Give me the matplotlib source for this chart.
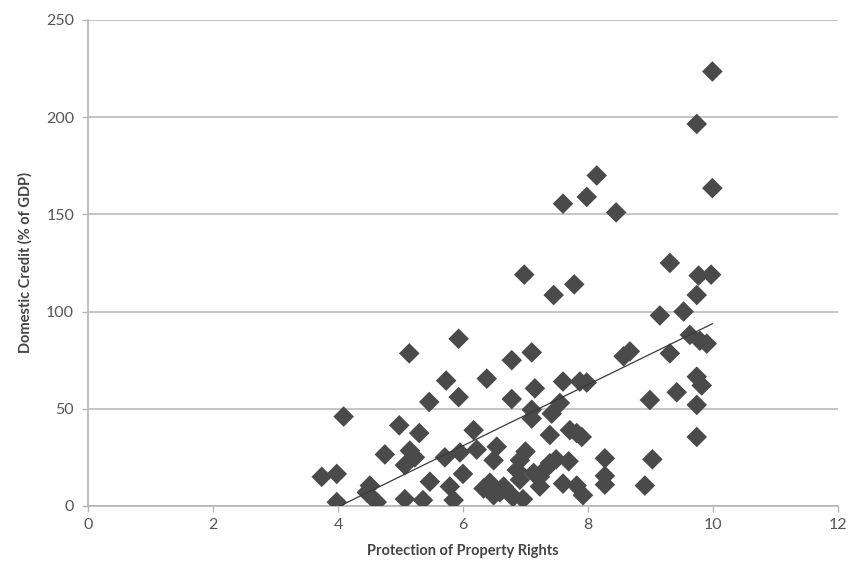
import matplotlib
matplotlib.use("Agg")
import matplotlib.pyplot as plt
import numpy as np

plt.rcParams['font.family'] = ['Lato', 'DejaVu Sans']

# Protection of property rights (x) and domestic credit % of GDP (y)
prop_rights = [3.74, 3.98, 3.98, 4.09, 4.46, 4.51, 4.62, 4.75, 4.98, 5.07, 5.07, 5.14, 5.15, 5.23,
               5.30, 5.36, 5.46, 5.47, 5.71, 5.73, 5.79, 5.85, 5.93, 5.93, 5.95, 6.00, 6.17, 6.22,
               6.33, 6.38, 6.43, 6.49, 6.49, 6.54, 6.59, 6.65, 6.75, 6.78, 6.78, 6.80, 6.86, 6.91,
               6.91, 6.96, 6.98, 7.00, 7.10, 7.10, 7.10, 7.13, 7.15, 7.23, 7.23, 7.35, 7.39, 7.39,
               7.42, 7.45, 7.49, 7.55, 7.60, 7.60, 7.60, 7.69, 7.71, 7.78, 7.82, 7.82, 7.87, 7.90,
               7.92, 7.98, 7.98, 8.14, 8.27, 8.27, 8.27, 8.45, 8.57, 8.67, 8.91, 8.99, 9.03, 9.15,
               9.31, 9.31, 9.42, 9.53, 9.63, 9.74, 9.74, 9.74, 9.74, 9.74, 9.77, 9.79, 9.82, 9.90,
               9.97, 9.99, 9.99]
credit = [15.0, 16.5, 2.0, 46.0, 7.0, 10.5, 2.0, 26.5, 41.5, 21.0, 3.5, 78.5, 28.5, 25.0,
          37.5, 3.0, 53.5, 12.5, 25.0, 64.5, 10.0, 3.0, 86.0, 56.0, 27.5, 16.5, 39.0, 29.0,
          9.0, 65.5, 12.0, 5.5, 23.5, 30.5, 7.0, 10.0, 6.5, 75.0, 55.0, 4.5, 18.5, 23.5,
          13.5, 3.5, 119.0, 28.0, 79.0, 49.5, 45.0, 17.0, 60.5, 15.0, 10.0, 20.0, 36.5, 22.0,
          47.5, 108.5, 24.0, 53.0, 155.5, 64.0, 11.5, 23.0, 39.0, 114.0, 37.5, 10.5, 64.0, 35.5,
          5.5, 159.0, 63.5, 170.0, 24.5, 15.5, 11.0, 151.0, 77.0, 79.5, 10.5, 54.5, 24.0, 98.0,
          125.0, 78.5, 58.5, 100.0, 88.0, 196.5, 108.5, 66.5, 52.0, 35.5, 118.5, 85.0, 62.0, 83.5,
          119.0, 223.5, 163.5]

# Linear trendline
trend_slope = 15.73
trend_intercept = -63.4

x_ticks = [0, 2, 4, 6, 8, 10, 12]
y_ticks = [0, 50, 100, 150, 200, 250]

fig = plt.figure(figsize=(8.48, 5.74), dpi=100)
ax = fig.add_axes([0.1038, 0.1185, 0.8844, 0.8467])

ax.scatter(prop_rights, credit, marker='D', s=110, color='#4a4a4a', edgecolors='none', zorder=3)

tx = np.array([min(prop_rights), max(prop_rights)])
ax.plot(tx, trend_slope * tx + trend_intercept, color='#3a3a3a', lw=0.9, zorder=4)

ax.set_xlim(0, 12)
ax.set_ylim(0, 250)
ax.set_xticks(x_ticks)
ax.set_yticks(y_ticks)
ax.yaxis.grid(True, color='#c0c0c0', lw=1.3)
ax.set_axisbelow(True)
for s in ['top', 'right']:
    ax.spines[s].set_visible(False)
for s in ['left', 'bottom']:
    ax.spines[s].set_color('#b5b5b5')
    ax.spines[s].set_linewidth(1.2)
ax.tick_params(axis='both', colors='#b5b5b5', labelcolor='#555555', labelsize=11.5, length=4, width=1)
ax.tick_params(axis='x', pad=5)
ax.tick_params(axis='y', pad=6)

ax.set_xlabel('Protection of Property Rights', fontsize=10.5, fontweight='bold', color='#444444', labelpad=8)
ax.set_ylabel('Domestic Credit (% of GDP)', fontsize=10.5, fontweight='bold', color='#444444', labelpad=10)

fig.savefig('out.png', dpi=100, facecolor='white')
